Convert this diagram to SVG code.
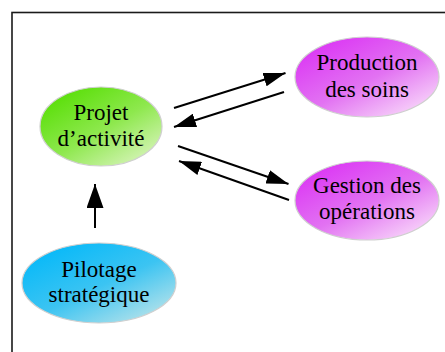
<svg xmlns="http://www.w3.org/2000/svg" width="445" height="352" viewBox="0 0 445 352">
<defs>
<linearGradient id="gGreen" x1="0.15" y1="0.15" x2="0.85" y2="0.95">
<stop offset="0" stop-color="#5ee00e"/><stop offset="0.5" stop-color="#8ee84e"/><stop offset="1" stop-color="#d6f4b8"/>
</linearGradient>
<linearGradient id="gPink" x1="0.15" y1="0.15" x2="0.85" y2="0.95">
<stop offset="0" stop-color="#dc3cf4"/><stop offset="0.5" stop-color="#e272f2"/><stop offset="1" stop-color="#f8d6fa"/>
</linearGradient>
<linearGradient id="gBlue" x1="0.15" y1="0.15" x2="0.85" y2="0.95">
<stop offset="0" stop-color="#0cbaf8"/><stop offset="0.5" stop-color="#3cc4f2"/><stop offset="1" stop-color="#b4e2ea"/>
</linearGradient>
<marker id="ah" markerUnits="userSpaceOnUse" markerWidth="22" markerHeight="14" refX="22" refY="7" orient="auto">
<path d="M0,0 L22,7 L0,14 Z" fill="#000"/>
</marker>
<marker id="ahBig" markerUnits="userSpaceOnUse" markerWidth="24" markerHeight="17" refX="24" refY="8.5" orient="auto">
<path d="M0,0 L24,8.5 L0,17 Z" fill="#000"/>
</marker>
<style>
.node ellipse{stroke:#cfcfcf;stroke-width:1.2}
.node text{font-family:"Liberation Serif","Times New Roman",serif;font-size:23px;fill:#000;text-anchor:middle}
.conn line{stroke:#000;stroke-width:2;fill:none}
</style>
</defs>
<rect width="445" height="352" fill="#fff"/>
<rect x="12" y="12.5" width="450" height="360" fill="none" stroke="#1a1a1a" stroke-width="1.6"/>
<g id="projet" class="node">
<ellipse cx="101" cy="126.5" rx="61" ry="39.5" fill="url(#gGreen)"/>
<text x="101" y="120">Projet</text>
<text x="101" y="146">d’activité</text>
</g>
<g id="production" class="node">
<ellipse cx="367" cy="77" rx="72" ry="40" fill="url(#gPink)"/>
<text x="367" y="70">Production</text>
<text x="367" y="97">des soins</text>
</g>
<g id="gestion" class="node">
<ellipse cx="367" cy="200.5" rx="72" ry="39.5" fill="url(#gPink)"/>
<text x="367" y="193">Gestion des</text>
<text x="367" y="219">opérations</text>
</g>
<g id="pilotage" class="node">
<ellipse cx="99" cy="283" rx="77" ry="40" fill="url(#gBlue)"/>
<text x="99" y="277">Pilotage</text>
<text x="99" y="302">stratégique</text>
</g>
<g id="connectors" class="conn">
<line x1="174" y1="108" x2="285.5" y2="73" marker-end="url(#ah)"/>
<line x1="284" y1="92" x2="174" y2="127" marker-end="url(#ah)"/>
<line x1="178" y1="146" x2="288.5" y2="184" marker-end="url(#ah)"/>
<line x1="289" y1="200" x2="179" y2="161" marker-end="url(#ah)"/>
<line x1="95" y1="228" x2="95" y2="184" marker-end="url(#ahBig)"/>
</g>
</svg>
